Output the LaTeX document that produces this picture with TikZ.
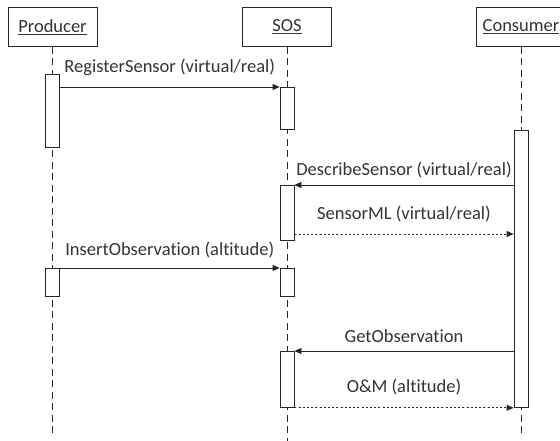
\documentclass[tikz,border=0pt]{standalone}
\usepackage{fontspec}
\setmainfont{Carlito}[Ligatures={NoCommon}]
\usetikzlibrary{arrows.meta}
\begin{document}
\begin{tikzpicture}[x=1pt,y=-1pt,
  every node/.style={font=\fontsize{18.5}{21}\selectfont, text=black!80},
  head/.style={draw=black!85, line width=0.8pt, minimum width=89pt, minimum height=39pt, inner sep=0pt, anchor=north},
  bar/.style={draw=black!85, fill=white, line width=0.8pt, minimum width=14pt, inner sep=0pt, anchor=north},
  life/.style={draw=black!85, line width=0.8pt, dash pattern=on 7pt off 4.5pt},
  msg/.style={draw=black!85, line width=0.8pt, -{Triangle[length=7pt,width=6pt]}},
  reply/.style={draw=black!85, line width=0.8pt, dash pattern=on 2pt off 2.2pt, -{Triangle[length=7pt,width=6pt]}},
  lbl/.style={anchor=base, inner sep=0pt, midway}]
\useasboundingbox (0,0) rectangle (560,441);
\clip (0,0) rectangle (560,441);

% lifeline heads
\node[head] (P) at (52.5,7) {\underline{Producer}};
\node[head] (S) at (287,7) {\underline{SOS}};
\node[head] (C) at (521,7) {\underline{Consumer}};

% lifelines
\coordinate (Pend) at (52.5,434);
\coordinate (Send) at (287,441);
\coordinate (Cend) at (521,434);
\draw[life] (P.south) -- (Pend);
\draw[life] (S.south) -- (Send);
\draw[life] (C.south) -- (Cend);

% activation bars
\node[bar, minimum height=73pt] (pa1) at (52.5,74) {};
\node[bar, minimum height=28pt] (pa2) at (52.5,268) {};
\node[bar, minimum height=42pt] (sa1) at (287,87) {};
\node[bar, minimum height=55pt] (sa2) at (287,185) {};
\node[bar, minimum height=28pt] (sa3) at (287,268) {};
\node[bar, minimum height=56pt] (sa4) at (287,351) {};
\node[bar, minimum height=277pt] (ca1) at (521,130) {};

% messages
\draw[msg] (pa1.east |- sa1.north) -- (sa1.north west) node[lbl, yshift=14pt] {RegisterSensor (virtual/real)};
\draw[msg] (ca1.west |- sa2.north) -- (sa2.north east) node[lbl, yshift=9.5pt] {DescribeSensor (virtual/real)};
\draw[reply] (sa2.east |- 0,234) -- (ca1.west |- 0,234) node[lbl, yshift=14.5pt] {SensorML (virtual/real)};
\draw[msg] (pa2.north east) -- (sa3.north west) node[lbl, yshift=12.5pt] {InsertObservation (altitude)};
\draw[msg] (ca1.west |- sa4.north) -- (sa4.north east) node[lbl, yshift=8.5pt] {GetObservation};
\draw[reply] (sa4.south east) -- (ca1.south west) node[lbl, yshift=15pt] {O\&M (altitude)};
\end{tikzpicture}
\end{document}
